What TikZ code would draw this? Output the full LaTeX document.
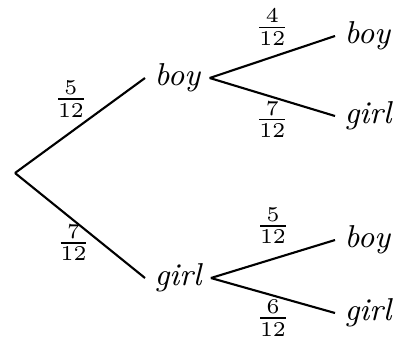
\documentclass[tikz,border=0pt]{standalone}
\usetikzlibrary{positioning}

\begin{document}
\begin{tikzpicture}[x=0.01cm,y=-0.01cm,semithick]
	\tikzstyle{leaf}=[inner sep=2.4pt,anchor=west,font=\small\itshape]
	\tikzstyle{prob}=[inner sep=1pt,font=\footnotesize]
	\useasboundingbox (0,0) rectangle (395,336);
	\coordinate (root) at (15,173);
	\foreach \name/\txt/\x/\y in {b/boy/145/78, g/girl/145/278, bb/boy/335/36, bg/girl/335/116, gb/boy/335/240, gg/girl/335/313}
		\node[leaf] (\name) at (\x,\y) {\txt};

	\path
	(root) edge node[prob,pos=.43,above=3pt] {$\frac{5}{12}$} (b.west)
	(root) edge node[prob,pos=.45,below] {$\frac{7}{12}$} (g.west)
	(b.east) edge node[prob,above=2pt] {$\frac{4}{12}$} (bb.west)
	(b.east) edge node[prob,below] {$\frac{7}{12}$} (bg.west)
	(g.east) edge node[prob,above=3pt] {$\frac{5}{12}$} (gb.west)
	(g.east) edge node[prob,below] {$\frac{6}{12}$} (gg.west);
\end{tikzpicture}
\end{document}
